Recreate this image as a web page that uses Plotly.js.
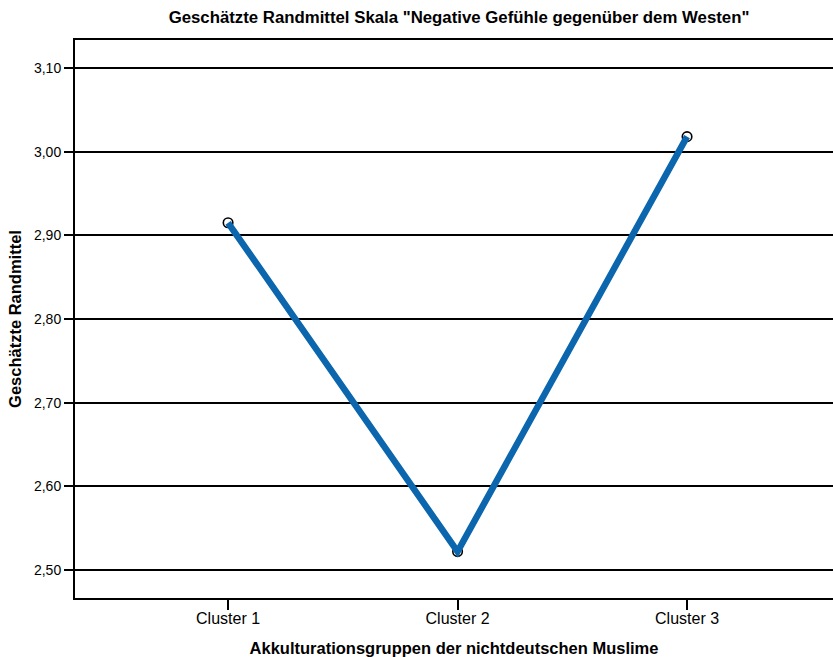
<!DOCTYPE html>
<html>
<head>
<meta charset="utf-8">
<script src="https://cdn.plot.ly/plotly-3.0.1.min.js"></script>
<style>html,body{margin:0;padding:0;background:#fff;}#chart{width:833px;height:657px;}</style>
</head>
<body>
<div id="chart"></div>
<script>
const categories = ["Cluster 1", "Cluster 2", "Cluster 3"];
const meanValues = [2.915, 2.522, 3.018];
const yTickValues = [2.5, 2.6, 2.7, 2.8, 2.9, 3.0, 3.1];
const yTickLabels = ["2,50", "2,60", "2,70", "2,80", "2,90", "3,00", "3,10"];

const xIdx = categories.map((c, i) => i);
const font = "Liberation Sans, Arial, sans-serif";

const traces = [
  {
    x: xIdx, y: meanValues, type: "scatter", mode: "markers",
    marker: {symbol: "circle", size: 9.5, color: "#ffffff", line: {color: "#000000", width: 1.6}},
    hoverinfo: "skip", showlegend: false
  },
  {
    x: xIdx, y: meanValues, type: "scatter", mode: "lines",
    line: {color: "#0b66ae", width: 6.5},
    showlegend: false
  }
];

const layout = {
  width: 833, height: 657,
  margin: {l: 75, r: 0, t: 40, b: 59},
  paper_bgcolor: "#ffffff", plot_bgcolor: "#ffffff",
  font: {family: font, size: 12, color: "#000"},
  title: {
    text: "<b>Geschätzte Randmittel Skala \"Negative Gefühle gegenüber dem Westen\"</b>",
    font: {family: font, size: 16.8, color: "#000"},
    x: 0.5066, xref: "paper", xanchor: "center", y: 0.974, yref: "container", yanchor: "middle"
  },
  xaxis: {
    range: [-0.667, 2.636],
    tickvals: xIdx, ticktext: categories,
    showgrid: false, zeroline: false,
    showline: true, linecolor: "#000", linewidth: 2, mirror: true,
    ticks: "outside", ticklen: 10, tickwidth: 2, tickcolor: "#000",
    ticklabelstandoff: -5,
    tickfont: {family: font, size: 16, color: "#000"},
    title: {text: "<b>Akkulturationsgruppen der nichtdeutschen Muslime</b>", font: {family: font, size: 16.5, color: "#000"}, standoff: 16}
  },
  yaxis: {
    range: [2.4665, 3.1335],
    tickvals: yTickValues, ticktext: yTickLabels,
    showgrid: true, gridcolor: "#000", gridwidth: 2,
    zeroline: false,
    showline: true, linecolor: "#000", linewidth: 2, mirror: false,
    ticks: "outside", ticklen: 9, tickwidth: 2, tickcolor: "#000",
    tickfont: {family: font, size: 14, color: "#000"},
    title: {text: "<b>Geschätzte Randmittel</b>", font: {family: font, size: 16.5, color: "#000"}, standoff: 8}
  }
};

Plotly.newPlot("chart", traces, layout, {displayModeBar: false, staticPlot: true});
</script>
</body>
</html>
